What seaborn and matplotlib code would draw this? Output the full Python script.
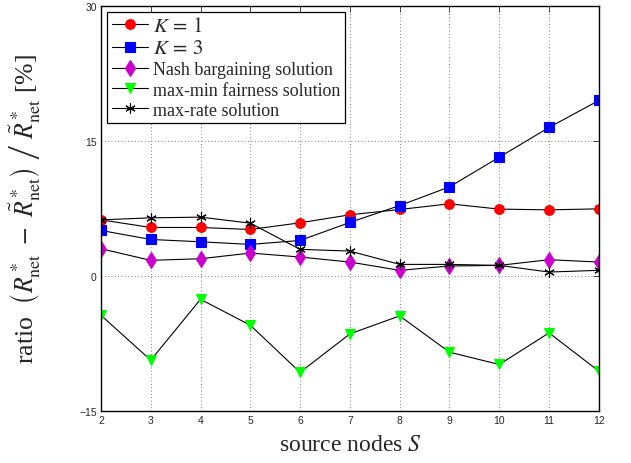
import matplotlib
matplotlib.use("Agg")
import matplotlib.pyplot as plt
import seaborn as sns
import pandas as pd

# Source node counts on the x axis
source_nodes = [2, 3, 4, 5, 6, 7, 8, 9, 10, 11, 12]

# Relative rate ratio [%] per scheme
k1 = [6.24, 5.39, 5.39, 5.17, 5.91, 6.80, 7.39, 8.02, 7.43, 7.35, 7.46]
k3 = [5.06, 4.06, 3.80, 3.51, 3.95, 5.95, 7.83, 9.90, 13.2, 16.5, 19.5]
nash = [3.03, 1.74, 1.92, 2.55, 2.11, 1.55, 0.63, 1.11, 1.18, 1.81, 1.55]
maxmin = [-4.36, -9.35, -2.59, -5.47, -10.7, -6.43, -4.43, -8.46, -9.83, -6.32, -10.57]
maxrate = [6.24, 6.46, 6.54, 5.87, 2.96, 2.77, 1.29, 1.29, 1.18, 0.44, 0.63]

y_ticks = [-15, 0, 15, 30]

series = [
    (r"$K\,=\,1$", k1, "o", "#ff0000", 7),
    (r"$K\,=\,3$", k3, "s", "#0000ff", 6.5),
    ("Nash bargaining solution", nash, "d", "#cc00cc", 8),
    ("max-min fairness solution", maxmin, "v", "#00ff00", 7.5),
    ("max-rate solution", maxrate, (6, 2, 0), "black", 7.5),
]

sns.set_theme(style="white")
plt.rcParams["mathtext.fontset"] = "stix"
plt.rcParams["font.family"] = ["Liberation Serif", "DejaVu Serif"]

fig = plt.figure(figsize=(6.31, 4.64), dpi=100)
ax = fig.add_axes([0.160, 0.112, 0.789, 0.873])

for label, vals, marker, color, ms in series:
    df = pd.DataFrame({"S": source_nodes, "ratio": vals})
    sns.lineplot(data=df, x="S", y="ratio", ax=ax, color="black", linewidth=0.8,
                 marker=marker, markersize=ms, markerfacecolor=color,
                 markeredgecolor=color, markeredgewidth=0.8,
                 label=label)

ax.set_xlim(2, 12)
ax.set_ylim(-15, 30)
ax.set_xticks(source_nodes)
ax.set_yticks(y_ticks)
ax.tick_params(axis="both", direction="in", length=4, width=0.6, labelsize=7.5,
               top=True, right=True, pad=3)
for lab in ax.get_xticklabels() + ax.get_yticklabels():
    lab.set_fontfamily("Liberation Sans")

ax.grid(True, linestyle=(0, (1, 3)), color="#555555", linewidth=0.6)
for sp in ax.spines.values():
    sp.set_color("black")
    sp.set_linewidth(1.0)

ax.set_xlabel(r"source nodes $S$", fontsize=17, labelpad=6)
ax.set_ylabel(r"ratio$\ \ \left(R^*_{\rm net}\ -\ \tilde{R}^*_{\rm net}\right)\ \left/\ \tilde{R}^*_{\rm net}\right.$ [%]",
              fontsize=18.5, labelpad=26)

leg = ax.legend(loc="upper left", fontsize=13, frameon=True, fancybox=False,
                framealpha=1, edgecolor="black", borderpad=0.25, labelspacing=0.18,
                handlelength=2.0, handletextpad=0.3, borderaxespad=0.35)
leg.get_frame().set_linewidth(0.9)
for txt in leg.get_texts()[:2]:
    txt.set_fontsize(15)

fig.savefig("out.png", dpi=100)
